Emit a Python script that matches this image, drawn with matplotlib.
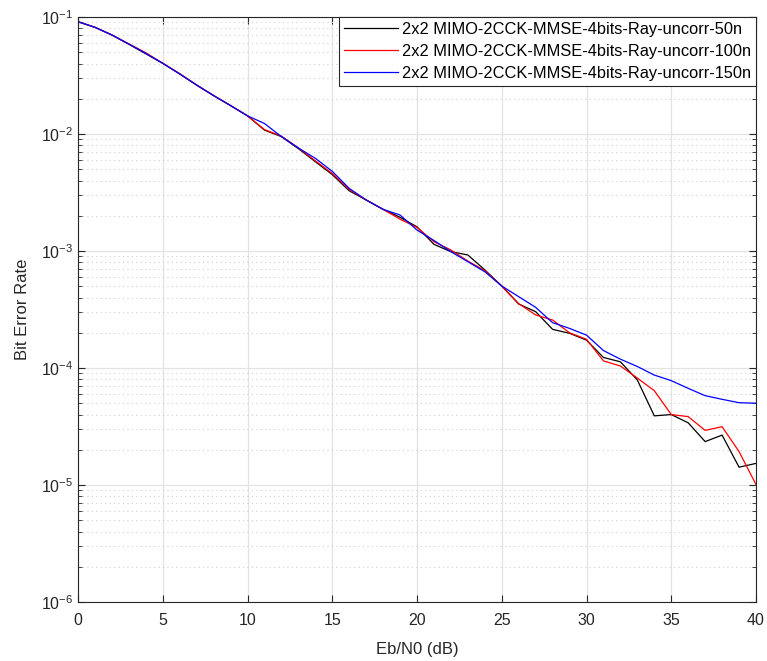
import numpy as np
import matplotlib
matplotlib.use('Agg')
import matplotlib.pyplot as plt
from matplotlib.ticker import LogLocator, NullFormatter, MultipleLocator

plt.rcParams['font.family'] = ['Liberation Sans', 'DejaVu Sans']
plt.rcParams['mathtext.fontset'] = 'custom'
plt.rcParams['mathtext.rm'] = 'Liberation Sans'

# Eb/N0 (dB)
ebn0 = list(range(0, 41))

ber_50n = [0.0912, 0.0816, 0.0702, 0.0585, 0.0485, 0.0402, 0.0326, 0.0262, 0.0213, 0.0175,
           0.0143, 0.0108, 0.0095, 0.0075, 0.0058, 0.0045, 0.00327, 0.00273, 0.00227, 0.00194,
           0.00161, 0.00114, 0.000987, 0.000925, 0.00069, 0.000502, 0.000352, 0.000303, 0.000214, 0.000198,
           0.000173, 0.000123, 0.000113, 0.000079, 0.000039, 0.000040, 0.000034, 0.0000235, 0.0000267, 0.0000142,
           0.0000153]
ber_100n = [0.0912, 0.0816, 0.0702, 0.0590, 0.0495, 0.0402, 0.0328, 0.0262, 0.0213, 0.0175,
            0.0143, 0.0109, 0.0096, 0.0076, 0.0059, 0.0046, 0.00336, 0.00273, 0.00227, 0.00187,
            0.00159, 0.00120, 0.00102, 0.00082, 0.00068, 0.000502, 0.000355, 0.000284, 0.000257, 0.000200,
            0.000176, 0.000115, 0.000104, 0.000082, 0.000064, 0.000040, 0.0000384, 0.0000293, 0.0000315, 0.0000193,
            0.0000101]
ber_150n = [0.0912, 0.0816, 0.0702, 0.0587, 0.0488, 0.0402, 0.0326, 0.0262, 0.0213, 0.0175,
            0.0143, 0.0123, 0.0095, 0.0076, 0.0062, 0.0048, 0.00343, 0.00273, 0.00227, 0.00203,
            0.00151, 0.00123, 0.000987, 0.00081, 0.000665, 0.000502, 0.000407, 0.00033, 0.000244, 0.000218,
            0.000191, 0.000141, 0.000119, 0.000103, 0.000087, 0.000078, 0.000067, 0.000058, 0.000054, 0.0000505,
            0.0000500]

labels = ['2x2 MIMO-2CCK-MMSE-4bits-Ray-uncorr-50n',
          '2x2 MIMO-2CCK-MMSE-4bits-Ray-uncorr-100n',
          '2x2 MIMO-2CCK-MMSE-4bits-Ray-uncorr-150n']

fig = plt.figure(figsize=(7.67, 6.61), dpi=100)
ax = fig.add_axes([78 / 767, 1 - 602 / 661, (756 - 78) / 767, (602 - 17) / 661])

ax.semilogy(ebn0, ber_50n, color='k', lw=0.9, label=labels[0])
ax.semilogy(ebn0, ber_100n, color='r', lw=0.9, label=labels[1])
ax.semilogy(ebn0, ber_150n, color='b', lw=0.9, label=labels[2])

ax.set_xlim(0, 40)
ax.set_ylim(1e-6, 1e-1)
ax.xaxis.set_major_locator(MultipleLocator(5))
ax.yaxis.set_major_locator(LogLocator(base=10, numticks=10))
ax.yaxis.set_minor_locator(LogLocator(base=10, subs=np.arange(2, 10), numticks=10))
ax.yaxis.set_minor_formatter(NullFormatter())

ax.grid(which='major', color='#e3e3e3', lw=0.9, ls='-')
ax.grid(which='minor', axis='y', color='#cfcfcf', lw=0.8, ls=(0, (1, 3)))
ax.set_axisbelow(True)

edge = '#262626'
for s in ax.spines.values():
    s.set_color(edge)
    s.set_linewidth(0.8)
ax.tick_params(which='both', direction='in', top=True, right=True, colors=edge, labelsize=11.5)
ax.tick_params(which='major', length=5)
ax.tick_params(which='minor', length=3)
ax.tick_params(axis='x', which='major', pad=8)

ax.set_xlabel('Eb/N0 (dB)', fontsize=12, color=edge, labelpad=10)
ax.set_ylabel('Bit Error Rate', fontsize=12, color=edge, labelpad=8)

leg = ax.legend(loc='upper right', fontsize=11.75, handlelength=3.3, fancybox=False,
                framealpha=1, edgecolor=edge, borderaxespad=0, borderpad=0.3,
                labelspacing=0.42, handletextpad=0.25)
leg.get_frame().set_linewidth(0.8)

fig.savefig('out.png', dpi=100)
